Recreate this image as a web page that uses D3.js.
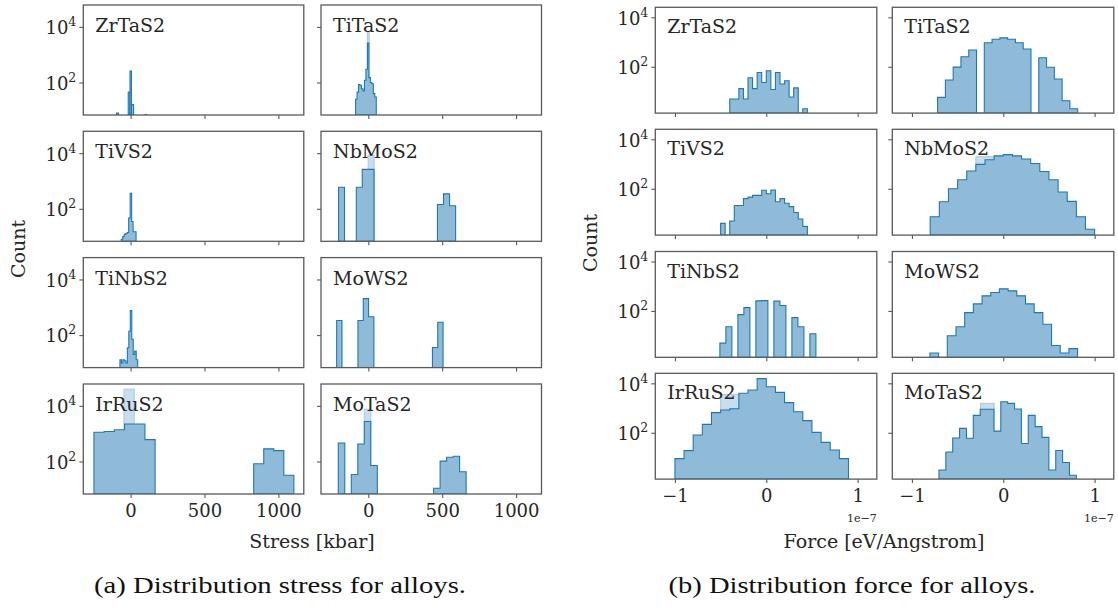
<!DOCTYPE html>
<html>
<head>
<meta charset="utf-8">
<script src="https://cdn.jsdelivr.net/npm/d3@7"></script>
<style>
  body { margin: 0; background: #fff; }
  text { font-family: "DejaVu Serif", serif; fill: #262626; }
  .cap { font-family: "Liberation Serif", serif; fill: #111; }
</style>
</head>
<body>
<div id="vis"></div>
<script>
// alloy names, same order in both figures (row by row, 2 columns)
var alloys = ['ZrTaS2', 'TiTaS2', 'TiVS2', 'NbMoS2', 'TiNbS2', 'MoWS2', 'IrRuS2', 'MoTaS2'];

// ---------- (a) stress [kbar] ----------
// each histogram: [first bin edge, bin width, counts]
var sZrTaS2 = [[-16, 12, [45]], [-4, 10, [260]], [6, 14, [16]], [-95, 12, [8]], [99, 11, [7]]];
var sTiTaS2 = [[-86, 10, [25, 45, 85, 80, 60, 50, 120, 300, 2600, 150, 100, 90, 40, 30]]];
var sTiVS2 = [[-63, 10, [8, 10, 12, 13, 14, 47, 363, 35, 15, 15]]];
var sNbMoS2 = [[-201, 40, [595, 0, 0, 595, 2620, 2620]], [468, 41, [142, 345, 128]]];
var sTiNbS2 = [[-72, 10, [13, 10, 13, 12, 10, 35, 138, 760, 71, 20, 27, 13]]];
var sMoWS2 = [[-214, 36, [335, 0, 0, 0, 335, 2040, 455]], [434, 36, [36, 290]]];
var sIrRuS2 = [[-248, 69, [1120, 1200, 1380, 2230, 2230, 610]], [833, 68, [83, 285, 247, 32]]];
var sMoTaS2 = [[-203, 44, [465, 0, 34, 425, 2750, 72]], [442, 44, [11, 103, 142, 155, 43]]];
// pale overlays: [x0, x1, count]
var sLight = [[], [[-6, 6, 6500]], [], [[-1, 39, 8500]], [], [], [[-45, 25, 40000]], [[-27, 17, 7600]]];
var stressTicks = [0, 500, 1000];

// ---------- (b) force [1e-7 eV/Angstrom] ----------
var fZrTaS2 = [[-0.40, 0.05, [5, 5, 13, 5, 36, 13, 59, 23, 69, 12, 59, 20, 27, 6, 14, 0, 2]]];
var fTiTaS2 = [[-0.719, 0.0852, [5.8, 29, 97, 253, 475, 0, 940, 1290, 1480, 1290, 940, 520, 0, 230, 95, 32, 4.2, 2]]];
var fTiVS2 = [[-0.5, 0.05, [4, 0, 5, 21, 21, 40, 46, 54, 54, 87, 63, 89, 30, 40, 26, 19, 11, 6, 3]]];
var fNbMoS2 = [[-0.8, 0.1, [7.4, 30, 100, 233, 525, 970, 1500, 2140, 2400, 2140, 1600, 1050, 500, 233, 74, 31, 7.4, 2.3]]];
var fTiNbS2 = [[-0.508, 0.0657, [5, 23, 0, 71, 137, 0, 256, 263, 0, 250, 166, 0, 54, 23, 0, 12]]];
var fMoWS2 = [[-0.803, 0.0951, [2, 0, 10, 23, 86, 193, 408, 555, 785, 650, 408, 193, 86, 29, 4, 2, 3]]];
var fIrRuS2 = [[-1.0, 0.1, [9, 19, 81, 219, 650, 830, 940, 3950, 5400, 15500, 7300, 4300, 1650, 710, 310, 104, 41, 20, 9]]];
var fMoTaS2 = [[-0.704, 0.0752, [3.1, 16.6, 61, 150, 60, 505, 890, 890, 117, 1800, 1550, 910, 37, 505, 177, 65, 3.1, 19.3, 6.3, 1.9]]];
var fLight = [[], [], [], [[-0.3, -0.05, 2000]], [], [], [[-0.5, -0.3, 3500]], [[-0.25, -0.1, 1550]]];
var forceTicks = [-1, 0, 1];

var width = 1118, height = 608;
var fillCol = '#8fbbd9', edgeCol = '#1f77b4', lightFill = '#c8ddee', lightEdge = '#a9cbe4', spineCol = '#5a5a5a';

var svg = d3.select('#vis').append('svg')
            .attr('width', width)
            .attr('height', height);

var line = d3.line();

function powLabel(sel, e) {
    sel.text(null);
    sel.append('tspan').text('10');
    sel.append('tspan').attr('font-size', 12.5).attr('dy', -8).text(e);
}

function drawFigure(f) {
    f.hists.forEach(function(hists, i) {
        var col = i % 2, row = Math.floor(i / 2);
        var x0 = f.colLeft[col], y0 = f.rowTop[row];
        var xScale = d3.scaleLinear().domain(f.xDomain).range([x0, x0 + f.w]);
        var yScale = d3.scaleLog().domain(f.yDomain).range([y0 + f.h, y0]);
        var base = y0 + f.h;
        var g = svg.append('g');

        var clipId = f.id + '-clip-' + i;
        svg.append('clipPath').attr('id', clipId)
           .append('rect').attr('x', x0).attr('y', y0).attr('width', f.w).attr('height', f.h);
        var plot = g.append('g').attr('clip-path', 'url(#' + clipId + ')');

        // pale boxes behind
        plot.selectAll('rect.light').data(f.light[i]).enter().append('rect')
            .attr('class', 'light')
            .attr('x', function(d) { return xScale(d[0]); })
            .attr('width', function(d) { return xScale(d[1]) - xScale(d[0]); })
            .attr('y', function(d) { return yScale(d[2]); })
            .attr('height', function(d) { return base - yScale(d[2]); })
            .attr('fill', lightFill)
            .attr('stroke', lightEdge)
            .attr('stroke-width', 1);

        // step histograms
        hists.forEach(function(h) {
            var start = h[0], bw = h[1], counts = h[2];
            var pts = [[xScale(start), base]];
            counts.forEach(function(c, k) {
                var y = c > 0 ? yScale(c) : base;
                pts.push([xScale(start + k * bw), y]);
                pts.push([xScale(start + (k + 1) * bw), y]);
            });
            pts.push([xScale(start + counts.length * bw), base]);
            plot.append('path')
                .attr('d', line(pts) + 'Z')
                .attr('fill', fillCol)
                .attr('stroke', edgeCol)
                .attr('stroke-width', 1.1)
                .attr('stroke-linejoin', 'miter');
        });

        // axes
        var xAxis = d3.axisBottom(xScale).tickValues(f.xTicks).tickSize(4).tickPadding(6)
                      .tickFormat(row === 3 ? f.xFormat : '');
        var xg = g.append('g').attr('transform', 'translate(0,' + base + ')').call(xAxis);
        var yAxis = d3.axisLeft(yScale).tickValues([100, 10000]).tickSize(4).tickPadding(3)
                      .tickFormat(col === 0 ? function(d) { return d; } : '');
        var yg = g.append('g').attr('transform', 'translate(' + x0 + ',0)').call(yAxis);
        [xg, yg].forEach(function(a) {
            a.attr('font-family', null).attr('font-size', 18);
            a.select('.domain').remove();
            a.selectAll('.tick line').attr('stroke', spineCol).attr('stroke-width', 1.1);
            a.selectAll('.tick text').attr('fill', '#262626');
        });
        if (col === 0) {
            yg.selectAll('.tick text').attr('dy', '0.38em').each(function(d) {
                powLabel(d3.select(this), Math.round(Math.log10(d)));
            });
        }

        // spines
        g.append('rect')
         .attr('x', x0).attr('y', y0).attr('width', f.w).attr('height', f.h)
         .attr('fill', 'none').attr('stroke', spineCol).attr('stroke-width', 1.3);

        // alloy name
        g.append('text')
         .attr('x', x0 + 12).attr('y', y0 + f.titleDy)
         .attr('font-size', 19)
         .text(alloys[i]);

        if (f.offsetText && row === 3) {
            g.append('text')
             .attr('x', x0 + f.w).attr('y', base + 43)
             .attr('text-anchor', 'end')
             .attr('font-size', 11)
             .text(f.offsetText);
        }
    });

    svg.append('text')
       .attr('transform', 'translate(' + f.countX + ',' + f.countY + ') rotate(-90)')
       .attr('text-anchor', 'middle')
       .attr('font-size', 19)
       .text('Count');
    svg.append('text')
       .attr('x', f.xLabelX).attr('y', 548)
       .attr('text-anchor', 'middle')
       .attr('font-size', 19)
       .text(f.xLabel);
    svg.append('text')
       .attr('class', 'cap')
       .attr('x', f.capX).attr('y', 593)
       .attr('text-anchor', 'middle')
       .attr('font-size', 24)
       .attr('textLength', f.capW)
       .attr('lengthAdjust', 'spacingAndGlyphs')
       .text(f.caption);
}

drawFigure({
    id: 'stress',
    hists: [sZrTaS2, sTiTaS2, sTiVS2, sNbMoS2, sTiNbS2, sMoWS2, sIrRuS2, sMoTaS2],
    light: sLight,
    colLeft: [83.3, 321],
    rowTop: [5, 131.3, 257.6, 384],
    w: 220.5, h: 110,
    xDomain: [-320, 1172],
    yDomain: [Math.pow(10, 0.832), Math.pow(10, 4.786)],
    xTicks: stressTicks,
    xFormat: function(d) { return d; },
    titleDy: 27,
    countX: 25, countY: 249,
    xLabel: 'Stress [kbar]', xLabelX: 312,
    caption: '(a) Distribution stress for alloys.', capX: 280, capW: 372
});

drawFigure({
    id: 'force',
    hists: [fZrTaS2, fTiTaS2, fTiVS2, fNbMoS2, fTiNbS2, fMoWS2, fIrRuS2, fMoTaS2],
    light: fLight,
    colLeft: [655.3, 892.3],
    rowTop: [7.3, 129.3, 251.5, 373.3],
    w: 221.5, h: 105.8,
    xDomain: [-1.215, 1.21],
    yDomain: [Math.pow(10, 0.126), Math.pow(10, 4.405)],
    xTicks: forceTicks,
    xFormat: function(d) { return d < 0 ? '\u2212' + (-d) : d; },
    titleDy: 26,
    offsetText: '1e\u22127',
    countX: 597, countY: 243,
    xLabel: 'Force [eV/Angstrom]', xLabelX: 884,
    caption: '(b) Distribution force for alloys.', capX: 852, capW: 367
});
</script>
</body>
</html>
